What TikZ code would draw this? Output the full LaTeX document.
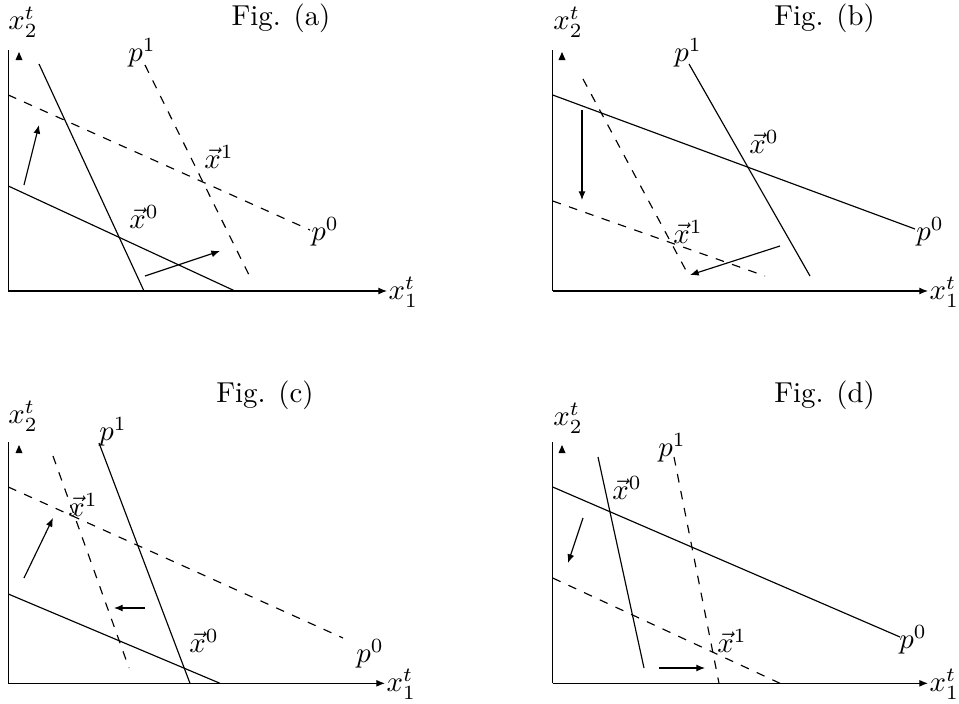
\documentclass[tikz,border=0pt]{standalone}
\usetikzlibrary{arrows.meta}
\begin{document}
\begin{tikzpicture}[x=0.347pt,y=-0.347pt,
  ln/.style={line width=0.4pt},
  dl/.style={line width=0.4pt,dashed},
  ar/.style={line width=0.4pt,-{Latex[length=3pt,width=2.4pt]}},
  ax/.style={line width=0.4pt,-{Latex[length=3pt,width=2.4pt]}},
  lab/.style={inner sep=0pt},
  ytip/.style={fill=black}]
\useasboundingbox (0,0) rectangle (959,703);

% ---------------- Panel (a)
\coordinate (ao) at (8.3,291);
\coordinate (ax) at (387,291);
\coordinate (ay) at (8.3,50);
\draw[ax] (ao) -- (ax);
\draw[ln] (ao) -- (ay);
\fill[ytip] (15.5,60) -- (19,52) -- (22.5,60) -- cycle;
\node[lab,anchor=west] (ax1) at (388,292) {$x_1^t$};
\node[lab] (ax2) at (23,22) {$x_2^t$};
\node[lab] (afig) at (281,18) {Fig. (a)};
\coordinate (as1a) at (39,64);  \coordinate (as1b) at (144,291);
\coordinate (as2a) at (8.3,186); \coordinate (as2b) at (235,291);
\coordinate (ad1a) at (8.3,95);  \coordinate (ad1b) at (310,230);
\coordinate (ad2a) at (145,65);  \coordinate (ad2b) at (250,277);
\draw[ln] (as1a) -- (as1b);
\draw[ln] (as2a) -- (as2b);
\draw[dl] (ad1a) -- (ad1b);
\draw[dl] (ad2a) -- (ad2b);
\node[lab] (ap0) at (325,232) {$p^0$};
\node[lab] (ap1) at (142,53) {$p^1$};
\node[lab] (ax1v) at (219,157) {$\vec{x}^1$};
\node[lab] (ax0v) at (144,217) {$\vec{x}^0$};
\coordinate (aa1) at (24,185); \coordinate (aa2) at (39,125);
\coordinate (ab1) at (145,276); \coordinate (ab2) at (220,251);
\draw[ar] (aa1) -- (aa2);
\draw[ar] (ab1) -- (ab2);

% ---------------- Panel (b)
\coordinate (bo) at (552.7,291);
\coordinate (bx) at (928,291);
\coordinate (by) at (552.7,50);
\draw[ax] (bo) -- (bx);
\draw[ln] (bo) -- (by);
\fill[ytip] (558.5,60) -- (562,52) -- (565.5,60) -- cycle;
\node[lab,anchor=west] (bx1) at (929,292) {$x_1^t$};
\node[lab] (bx2) at (568,22) {$x_2^t$};
\node[lab] (bfig) at (824.5,18) {Fig. (b)};
\coordinate (bs1a) at (552.7,95); \coordinate (bs1b) at (915,229);
\coordinate (bs2a) at (689,64);   \coordinate (bs2b) at (810,276);
\coordinate (bd1a) at (583,79);   \coordinate (bd1b) at (689,276);
\coordinate (bd2a) at (552.7,201); \coordinate (bd2b) at (765,276);
\draw[ln] (bs1a) -- (bs1b);
\draw[ln] (bs2a) -- (bs2b);
\draw[dl] (bd1a) -- (bd1b);
\draw[dl] (bd2a) -- (bd2b);
\node[lab] (bp0) at (930,232) {$p^0$};
\node[lab] (bp1) at (688,53) {$p^1$};
\node[lab] (bx0v) at (764,142) {$\vec{x}^0$};
\node[lab] (bx1v) at (688,232) {$\vec{x}^1$};
\coordinate (ba1) at (582,110); \coordinate (ba2) at (582,200);
\coordinate (bb1) at (780,246); \coordinate (bb2) at (690,275);
\draw[ar] (ba1) -- (ba2);
\draw[ar] (bb1) -- (bb2);

% ---------------- Panel (c)
\coordinate (co) at (8.3,683.3);
\coordinate (cx) at (385,683.3);
\coordinate (cy) at (8.3,441.7);
\draw[ax] (co) -- (cx);
\draw[ln] (co) -- (cy);
\fill[ytip] (15.5,453) -- (19,445) -- (22.5,453) -- cycle;
\node[lab,anchor=west] (cx1) at (386,684) {$x_1^t$};
\node[lab] (cx2) at (23,416) {$x_2^t$};
\node[lab] (cfig) at (265,395) {Fig. (c)};
\coordinate (cs1a) at (99,443);   \coordinate (cs1b) at (190,683.3);
\coordinate (cs2a) at (8.3,594);  \coordinate (cs2b) at (220,683.3);
\coordinate (cd1a) at (8.3,487);  \coordinate (cd1b) at (343,638);
\coordinate (cd2a) at (53,456);   \coordinate (cd2b) at (129,668);
\draw[ln] (cs1a) -- (cs1b);
\draw[ln] (cs2a) -- (cs2b);
\draw[dl] (cd1a) -- (cd1b);
\draw[dl] (cd2a) -- (cd2b);
\node[lab] (cp0) at (370,654) {$p^0$};
\node[lab] (cp1) at (113,432) {$p^1$};
\node[lab] (cx1v) at (83,505) {$\vec{x}^1$};
\node[lab] (cx0v) at (204,641) {$\vec{x}^0$};
\coordinate (ca1) at (24,578); \coordinate (ca2) at (53,518);
\coordinate (cb1) at (145,608); \coordinate (cb2) at (114,608);
\draw[ar] (ca1) -- (ca2);
\draw[ar] (cb1) -- (cb2);

% ---------------- Panel (d)
\coordinate (do) at (552.7,683.3);
\coordinate (dx) at (928,683.3);
\coordinate (dy) at (552.7,441.7);
\draw[ax] (do) -- (dx);
\draw[ln] (do) -- (dy);
\fill[ytip] (558.5,453) -- (562,445) -- (565.5,453) -- cycle;
\node[lab,anchor=west] (dx1) at (929,684) {$x_1^t$};
\node[lab] (dx2) at (568,418) {$x_2^t$};
\node[lab] (dfig) at (824.5,395) {Fig. (d)};
\coordinate (ds1a) at (552.7,487); \coordinate (ds1b) at (900,637);
\coordinate (ds2a) at (598,457);   \coordinate (ds2b) at (644,668);
\coordinate (dd1a) at (674,457);   \coordinate (dd1b) at (719,683.3);
\coordinate (dd2a) at (552.7,578); \coordinate (dd2b) at (780,683.3);
\draw[ln] (ds1a) -- (ds1b);
\draw[ln] (ds2a) -- (ds2b);
\draw[dl] (dd1a) -- (dd1b);
\draw[dl] (dd2a) -- (dd2b);
\node[lab] (dp0) at (913,640) {$p^0$};
\node[lab] (dp1) at (672,448) {$p^1$};
\node[lab] (dx0v) at (627,488) {$\vec{x}^0$};
\node[lab] (dx1v) at (732,641) {$\vec{x}^1$};
\coordinate (da1) at (583,518); \coordinate (da2) at (568,563);
\coordinate (db1) at (659,668); \coordinate (db2) at (705,668);
\draw[ar] (da1) -- (da2);
\draw[ar] (db1) -- (db2);
\end{tikzpicture}
\end{document}
